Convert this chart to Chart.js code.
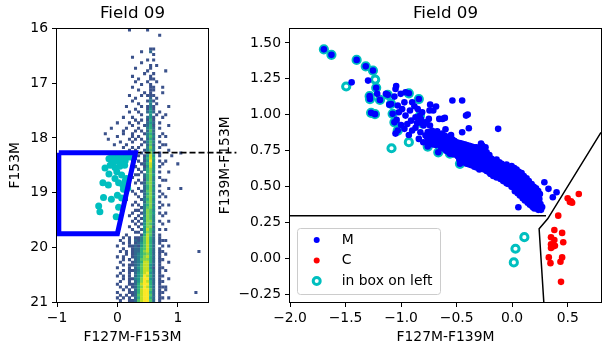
<!DOCTYPE html>
<html>
<head>
<meta charset="utf-8">
<script src="https://cdn.jsdelivr.net/npm/chart.js@4.4.1/dist/chart.umd.min.js"></script>
<style>
  html, body { margin: 0; padding: 0; background: #fff; }
  #wrap { position: relative; width: 608px; height: 344px; }
  #wrap canvas { position: absolute; left: 0; top: 0; }
</style>
</head>
<body>
<div id="wrap">
  <canvas id="cmd" width="608" height="344"></canvas>
  <canvas id="ccd" width="608" height="344"></canvas>
</div>
<script>
// ---- data ----
const leftXTicks = [-1, 0, 1];
const leftYTicks = [16, 17, 18, 19, 20, 21];
const rightXTicks = [-2, -1.5, -1, -0.5, 0, 0.5];
const rightYTicks = [-0.25, 0, 0.25, 0.5, 0.75, 1, 1.25, 1.5];

// CMD density: one string per 0.05 mag row from 16.0, one char per 0.05 colour bin centred from -0.3
// '.' = empty, 1..9 = density level, '|' only marks the ridge columns (0.35..0.75)
const cmdColStart = -0.3;
const cmdColStep = 0.05;
const cmdRowStart = 16.0;
const cmdRowStep = 0.05;
const cmdRows = [
  "..........1.....1.....",
  "",
  "....................1.",
  "",
  "",
  "",
  "",
  ".................11...",
  "..............1..2....",
  "..................1...",
  "...........1..........",
  "................1.1...",
  "..............1.......",
  ".................1.1..",
  "............1....1....",
  "................1.....1",
  "...............1..1...",
  "...........1.....1....",
  ".............1...11...",
  "............1...1..1..",
  "..............1..1....",
  "...........1.....11..1.",
  ".............1...11...",
  "...............1.1...1",
  "..........1...1.111...",
  "............1....2.1..",
  "...........1.|...131...",
  ".............|1...3.1..",
  ".........1...|.1.131...|.1",
  "............1|...141...",
  "..........1..|1..242.1.",
  ".............|.1..4.1..|1",
  "........1..1.|...241..1",
  "............1|.1.151...",
  "......1...1..|1..242.1.",
  "...........1.|..1251...|.1",
  "....1....1...|1..352.1.",
  "........1...1|.1.262...",
  "..1.....1..1.|..1352..1",
  "......1....1.|1..363.1.|1",
  "...1......1.1|.1.252...",
  ".......1...1.|..1363.1.",
  ".....1...1...|.1.262..1|1",
  "........1..1.|1..373.1.",
  "..........1.1|..1363...|.1",
  ".........1...|.1.373.1.|.....1",
  "...........1.|1.1484.1.|..1",
  "............1|..2585...",
  "...........1.|1.1494.1.|1",
  ".............|.12584..1|....1",
  "............1|..1484.1.",
  "...........1.|1.2574...",
  ".............|.1.573.1.|.1",
  "............1|1.2574...",
  "...........1.|..2573.1.",
  ".............|1.1573..1|1",
  "............1|.12674...",
  "..........1..|..2573.1.",
  ".............|1.2574...|.1...1",
  "...........1.|.12673.1.",
  "............1|..2573..1",
  ".............|1.2674.1.|1",
  ".........1...|.13573...",
  "............1|..2674.1.",
  "...........1.|1.3573..1|.1",
  ".............|.13674.1.",
  "............1|1.3763...",
  "...........1.|.13764.1.|1",
  "..........1..|1.3763..1",
  "............1|.14763...",
  "...........1.|1.3773.1.|.1",
  "............1|.14763..1",
  "..........1..|1.4772...",
  "...........1.|.14863.1.|1",
  "............1|1.4762...",
  ".........1...|.15862.1.",
  "........1.1.1|136852.1.",
  ".......1..1.2|136852.11|1",
  "........1.1.1|246852.1.",
  "......1...112|146852..1|.1",
  "........1..12|256852.1.",
  ".......1.1.12|257852.11|...........1",
  ".........1.12|356752.1.|1",
  "......1.1..12|357852.1.",
  "........1.1.2|367752.11",
  ".......1...12|358852.1.|.1",
  "........1.112|368842.1.",
  "......1...1.2|468841.11",
  "........1.112|368852.1.|1",
  ".......1..1.2|468942.1.",
  "......1.1.1.2|469852.11",
  "........1.113|479942.1.|.1",
  ".......1..1.2|479852.11",
  "......1...112|589952.1.",
  ".......1.1.12|579852.11|1",
  "........1.1.2|589962.1.|1",
  "......1...112|589952.11|..........1",
  ".......1.1.12|689962.1.",
  "......1.1.1.2|589952.11|.1",
  ".......1..112|689962.1."
];

// stars inside the selection box (left panel): [colour, magnitude]
const boxStarsLeft = [
  [-0.14,18.38],[-0.09,18.33],[-0.03,18.35],[0.02,18.34],[0.07,18.36],[0.10,18.39],[0.16,18.34],
  [0.21,18.35],[0.13,18.42],[0.05,18.42],[-0.02,18.42],[-0.07,18.44],[-0.205,18.55],[-0.12,18.50],
  [-0.04,18.54],[0.04,18.52],[0.12,18.50],[-0.01,18.62],[-0.14,18.66],[0.07,18.68],[-0.04,18.74],
  [0.15,18.74],[-0.24,18.82],[-0.15,18.86],[0.02,18.82],[0.09,18.86],[0.13,18.78],[0.17,18.92],
  [0.10,18.94],[-0.23,19.09],[-0.10,19.12],[0.07,19.10],[-0.31,19.245],[-0.29,19.35],[0.02,19.27],
  [-0.02,19.44],[0.0,19.05]
];
const boxX = [-0.97, 0.30, 0.0, -0.97, -0.97];
const boxY = [18.27, 18.27, 19.75, 19.75, 18.27];
const cutX = [0.30, 1.97];
const cutY = [18.27, 18.27];

// right panel: [F127M-F139M, F139M-F153M]
const mStars = [
  [-1.695,1.455],[-1.627,1.417],[-1.40,1.382],[-1.318,1.337],[-1.253,1.308],[-1.445,1.226],[-1.297,1.238],
  [-1.224,1.188],[-1.215,1.146],[-1.283,1.13],[-1.28,1.11],[-1.19,1.104],[-1.136,1.146],[-1.12,1.139],
  [-1.044,1.20],[-1.05,1.18],[-1.003,1.146],[-0.96,1.157],[-0.93,1.15],[-0.84,1.11],[-1.09,1.076],
  [-1.106,1.071],[-1.06,1.127],[-1.03,1.065],[-0.97,1.087],[-0.90,1.087],[-0.88,1.06],[-1.27,1.014],
  [-1.235,1.005],[-1.076,1.007],[-1.02,1.018],[-0.96,0.995],[-0.99,1.04],[-0.92,1.03],[-0.85,1.04],
  [-0.87,0.983],[-0.81,1.018],[-0.83,0.995],[-0.738,1.071],[-0.71,1.03],[-0.744,1.03],[-0.685,1.058],
  [-0.75,0.972],[-0.77,0.95],[-0.82,0.97],[-0.81,0.94],[-1.06,0.948],[-1.04,0.965],[-0.944,0.937],
  [-0.91,0.96],[-0.856,0.944],[-0.797,0.926],[-0.74,0.926],[-1.0,0.93],[-1.03,0.891],[-1.05,0.87],
  [-0.97,0.903],[-0.90,0.891],[-0.87,0.91],[-0.826,0.879],[-0.93,0.86],[-0.78,0.856],[-0.84,0.833],
  [-0.80,0.81],[-0.76,0.78],[-0.665,0.74],[-0.56,0.73],[-0.47,0.66],
  [-0.538,1.10],[-0.45,1.10],[-0.656,0.972],[-0.606,0.979],[-0.627,0.972],[-0.415,0.995],[-0.40,1.002],
  [-0.39,0.907],[-0.45,0.879],[-0.126,0.903],[-0.27,0.787],[-0.24,0.775],[-0.28,0.80],[-0.60,0.90],
  [-0.55,0.86],
  [0.29,0.532],[0.327,0.486],[0.40,0.462],[0.366,0.428],[0.056,0.358],
  [-0.76,0.88],[-0.765,0.845],[-0.755,0.81],
  [-0.72,0.89],[-0.715,0.855],[-0.725,0.82],[-0.71,0.795],
  [-0.675,0.885],[-0.68,0.85],[-0.67,0.815],[-0.685,0.79],
  [-0.63,0.87],[-0.635,0.835],[-0.625,0.80],[-0.64,0.775],
  [-0.585,0.845],[-0.59,0.81],[-0.58,0.78],[-0.595,0.75],
  [-0.54,0.83],[-0.545,0.795],[-0.535,0.76],[-0.55,0.73],
  [-0.50,0.81],[-0.495,0.775],[-0.505,0.745],[-0.49,0.715],
  [-0.455,0.80],[-0.46,0.765],[-0.45,0.73],[-0.465,0.70],[-0.455,0.68],
  [-0.41,0.79],[-0.415,0.755],[-0.405,0.72],[-0.42,0.69],[-0.41,0.66],
  [-0.365,0.78],[-0.37,0.745],[-0.36,0.71],[-0.375,0.68],[-0.365,0.65],
  [-0.32,0.775],[-0.325,0.74],[-0.315,0.705],[-0.33,0.67],[-0.32,0.635],
  [-0.275,0.775],[-0.28,0.74],[-0.27,0.70],[-0.285,0.665],[-0.275,0.63],
  [-0.23,0.74],[-0.235,0.705],[-0.225,0.67],[-0.24,0.64],[-0.23,0.61],
  [-0.185,0.695],[-0.19,0.66],[-0.18,0.625],[-0.195,0.59],
  [-0.14,0.69],[-0.145,0.655],[-0.135,0.62],[-0.15,0.59],[-0.14,0.565],
  [-0.095,0.66],[-0.10,0.625],[-0.09,0.59],[-0.105,0.555],
  [-0.05,0.655],[-0.055,0.62],[-0.045,0.585],[-0.06,0.55],[-0.05,0.525],
  [-0.005,0.645],[-0.01,0.61],[0.0,0.575],[-0.015,0.54],[-0.005,0.50],
  [0.04,0.62],[0.035,0.585],[0.045,0.55],[0.03,0.515],[0.04,0.48],[0.05,0.455],
  [0.085,0.595],[0.08,0.56],[0.09,0.525],[0.075,0.49],[0.085,0.455],[0.095,0.42],
  [0.13,0.56],[0.125,0.525],[0.135,0.49],[0.12,0.455],[0.13,0.42],[0.14,0.39],
  [0.175,0.52],[0.17,0.485],[0.18,0.45],[0.165,0.415],[0.175,0.38],[0.185,0.36],
  [0.215,0.49],[0.21,0.455],[0.22,0.42],[0.205,0.385],[0.215,0.355],
  [0.25,0.45],[0.245,0.415],[0.255,0.38],[0.24,0.35],
  [0.27,0.36],[0.26,0.34],
  [-0.74,0.87],[-0.745,0.835],[-0.735,0.80],
  [-0.70,0.87],[-0.695,0.835],[-0.705,0.805],
  [-0.65,0.86],[-0.655,0.825],[-0.645,0.79],
  [-0.605,0.855],[-0.61,0.82],[-0.60,0.79],[-0.615,0.765],
  [-0.56,0.84],[-0.565,0.80],[-0.555,0.77],[-0.57,0.74],
  [-0.52,0.82],[-0.525,0.785],[-0.515,0.755],[-0.52,0.725],
  [-0.475,0.805],[-0.48,0.77],[-0.47,0.74],[-0.485,0.71],[-0.475,0.69],
  [-0.43,0.795],[-0.435,0.76],[-0.425,0.725],[-0.44,0.695],[-0.43,0.67],
  [-0.385,0.785],[-0.39,0.75],[-0.38,0.715],[-0.395,0.685],[-0.385,0.655],
  [-0.34,0.775],[-0.345,0.74],[-0.335,0.705],[-0.35,0.67],[-0.34,0.64],
  [-0.295,0.755],[-0.30,0.72],[-0.29,0.685],[-0.305,0.65],[-0.295,0.62],
  [-0.25,0.76],[-0.255,0.72],[-0.245,0.685],[-0.26,0.65],[-0.25,0.62],
  [-0.205,0.72],[-0.21,0.685],[-0.20,0.65],[-0.215,0.615],[-0.205,0.60],
  [-0.16,0.675],[-0.165,0.64],[-0.155,0.605],[-0.17,0.575],
  [-0.115,0.67],[-0.12,0.64],[-0.11,0.605],[-0.125,0.57],
  [-0.07,0.64],[-0.075,0.605],[-0.065,0.57],[-0.08,0.54],
  [-0.025,0.63],[-0.03,0.595],[-0.02,0.56],[-0.035,0.52],
  [0.02,0.63],[0.015,0.60],[0.025,0.565],[0.01,0.53],[0.02,0.495],[0.025,0.47],
  [0.06,0.605],[0.055,0.57],[0.065,0.535],[0.05,0.50],[0.06,0.465],[0.07,0.44],
  [0.105,0.575],[0.10,0.54],[0.11,0.505],[0.095,0.47],[0.105,0.435],[0.115,0.405],
  [0.15,0.54],[0.145,0.505],[0.155,0.47],[0.14,0.435],[0.15,0.40],[0.16,0.375],
  [0.195,0.50],[0.19,0.47],[0.20,0.435],[0.185,0.40],[0.195,0.37],[0.20,0.35],
  [0.235,0.47],[0.23,0.435],[0.24,0.40],[0.225,0.365],[0.235,0.34]
];
const cStars = [
  [0.50,0.42],[0.53,0.40],[0.54,0.39],[0.52,0.395],[0.60,0.45],[0.415,0.30],[0.38,0.20],
  [0.45,0.18],[0.35,0.15],[0.38,0.13],[0.46,0.115],[0.35,0.10],[0.365,0.085],[0.385,0.09],
  [0.35,0.075],[0.33,0.01],[0.45,0.01],[0.435,-0.02],[0.345,-0.03],[0.44,-0.16]
];
const boxStarsRight = [
  [-1.695,1.455],[-1.627,1.417],[-1.40,1.382],[-1.318,1.337],[-1.253,1.308],[-1.233,1.245],
  [-1.494,1.197],[-1.224,1.188],[-1.283,1.13],[-1.28,1.11],[-1.19,1.104],[-1.12,1.139],
  [-1.09,1.076],[-0.93,1.15],[-0.84,1.11],[-1.27,1.014],[-1.235,1.005],[-1.076,1.007],
  [-1.06,0.948],[-1.03,0.891],[-0.83,0.995],[-0.81,0.94],[-0.93,0.81],[-1.086,0.768],
  [-0.76,0.78],[-0.665,0.74],[-0.56,0.73],[-0.47,0.66],[0.11,0.15],[0.03,0.07],[0.015,-0.025]
];
const cutLineX = [-2.0, 0.305];
const cutLineY = [0.30, 0.30];
const edgeX = [0.285, 0.243, 0.32, 0.80];
const edgeY = [-0.30, 0.208, 0.278, 0.878];

// ---- styling ----
Chart.defaults.font.family = "'DejaVu Sans', sans-serif";
Chart.defaults.font.size = 13.9;
Chart.defaults.color = '#000';

const viridis = [null, '#3b528b', '#30698e', '#26828e', '#1f988b', '#2cb17e', '#52c569', '#86d549', '#c2df23', '#fde725'];

const pts = arr => arr.map(p => ({x: p[0], y: p[1]}));
const line = (xs, ys) => xs.map((x, i) => ({x: x, y: ys[i]}));
const num = (v, d) => (v < 0 ? '\u2212' : '') + Math.abs(v).toFixed(d);

const cells = [];
cmdRows.forEach((raw, j) => {
  const row = raw.replace(/\|/g, '');
  for (let i = 0; i < row.length; i++) {
    const lev = row[i] === '.' ? 0 : +row[i];
    if (lev > 0) cells.push({x: cmdColStart + i * cmdColStep, y: cmdRowStart + (j + 0.5) * cmdRowStep, level: lev});
  }
});

const frame = {
  id: 'frame',
  afterDatasetsDraw(chart) {
    const a = chart.chartArea, ctx = chart.ctx;
    ctx.save();
    ctx.strokeStyle = '#000';
    ctx.lineWidth = 1;
    const l = Math.round(a.left) - 0.5, t = Math.round(a.top) - 0.5;
    const r = Math.round(a.right) + 0.5, b = Math.round(a.bottom) + 0.5;
    ctx.strokeRect(l, t, r - l, b - t);
    ctx.restore();
  }
};

function scale(min, max, ticks, dec, title, fit, isY, reverse) {
  return {
    type: 'linear', min: min, max: max, reverse: !!reverse,
    afterBuildTicks: s => { s.ticks = ticks.map(v => ({value: v})); },
    afterFit: s => { if (isY) s.width = fit; else s.height = fit; },
    ticks: { callback: v => num(v, dec), padding: isY ? 4 : 3, maxRotation: 0, autoSkip: false },
    grid: { drawOnChartArea: false, tickLength: 5, color: '#000', tickWidth: 1 },
    border: { display: false },
    title: {
      display: true, text: title,
      font: { size: 13.9, lineHeight: isY ? 1.2 : 1 },
      padding: isY ? { top: 6.7, bottom: 0 } : { top: 0, bottom: 0 }
    }
  };
}

const titleOpts = {
  display: true, text: 'Field 09', fullSize: false, color: '#000',
  font: { size: 16.7, weight: 'normal', lineHeight: 1.2 },
  padding: { top: 4, bottom: 4.46 }
};

new Chart(document.getElementById('cmd'), {
  type: 'scatter',
  data: {
    datasets: [
      { data: line(boxX, boxY), showLine: true, borderColor: '#0000ff', borderWidth: 5,
        pointRadius: 0, clip: 0, borderJoinStyle: 'miter' },
      { data: line(cutX, cutY), showLine: true, borderColor: '#000', borderWidth: 1.8,
        borderDash: [6, 3], pointRadius: 0, clip: false },
      { data: pts(boxStarsLeft), pointRadius: 3.5, backgroundColor: '#00bfbf', borderWidth: 0 },
      { data: cells, pointStyle: 'rect', pointRadius: 2.16, borderWidth: 0,
        backgroundColor: c => viridis[c.raw ? c.raw.level : 1] }
    ]
  },
  options: {
    responsive: false, animation: false, events: [],
    layout: { padding: { left: 0, right: 400, top: 0, bottom: 0 } },
    plugins: { legend: { display: false }, tooltip: { enabled: false }, title: titleOpts },
    scales: {
      x: scale(-1, 1.5, leftXTicks, 0, 'F127M-F153M', 42, false),
      y: scale(16, 21, leftYTicks, 0, 'F153M', 57, true, true)
    }
  },
  plugins: [frame]
});

const legendBox = {
  id: 'legendBox',
  afterDraw(chart) {
    const ctx = chart.ctx;
    ctx.save();
    ctx.beginPath();
    ctx.roundRect(297.5, 228.5, 143, 66, 3);
    ctx.fillStyle = 'rgba(255,255,255,0.8)';
    ctx.fill();
    ctx.strokeStyle = '#cccccc';
    ctx.lineWidth = 1;
    ctx.stroke();
    const rows = chart.data.datasets.filter(d => d.legendRow !== undefined);
    rows.sort((a, b) => a.legendRow - b.legendRow);
    const ys = [240, 260.5, 281];
    rows.forEach((d, i) => {
      ctx.beginPath();
      ctx.arc(316.7, ys[i], d.ring ? 3.5 : 3, 0, Math.PI * 2);
      if (d.ring) { ctx.strokeStyle = d.borderColor; ctx.lineWidth = 3; ctx.stroke(); }
      else { ctx.fillStyle = d.backgroundColor; ctx.fill(); }
      ctx.fillStyle = '#000';
      ctx.font = "13.9px 'DejaVu Sans', sans-serif";
      ctx.textAlign = 'left';
      ctx.textBaseline = 'middle';
      ctx.fillText(d.label, 341.7, ys[i]);
    });
    ctx.restore();
  }
};

new Chart(document.getElementById('ccd'), {
  type: 'scatter',
  data: {
    datasets: [
      { label: 'C', legendRow: 1, data: pts(cStars), pointRadius: 3.3, backgroundColor: '#ff0000', borderWidth: 0 },
      { label: 'M', legendRow: 0, data: pts(mStars), pointRadius: 3.3, backgroundColor: '#0000ff', borderWidth: 0 },
      { label: 'in box on left', legendRow: 2, ring: true, data: pts(boxStarsRight), pointRadius: 3.6,
        backgroundColor: 'rgba(0,0,0,0)', borderColor: '#00bfbf', borderWidth: 3 },
      { data: line(cutLineX, cutLineY), showLine: true, borderColor: '#000', borderWidth: 1.5, pointRadius: 0, clip: 0 },
      { data: line(edgeX, edgeY), showLine: true, borderColor: '#000', borderWidth: 1.5, pointRadius: 0, clip: 0 }
    ]
  },
  options: {
    responsive: false, animation: false, events: [],
    layout: { padding: { left: 210, right: 1, top: 0, bottom: 0 } },
    plugins: { legend: { display: false }, tooltip: { enabled: false }, title: titleOpts },
    scales: {
      x: scale(-2, 0.8, rightXTicks, 1, 'F127M-F139M', 42, false),
      y: scale(-0.3, 1.6, rightYTicks, 2, 'F139M-F153M', 80, true)
    }
  },
  plugins: [frame, legendBox]
});
</script>
</body>
</html>
